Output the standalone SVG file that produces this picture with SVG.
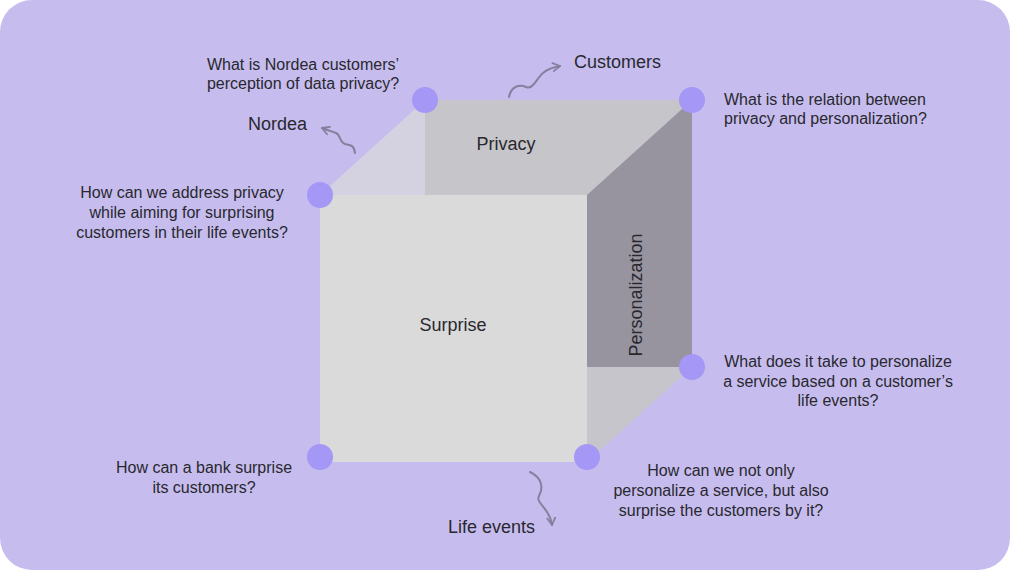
<svg xmlns="http://www.w3.org/2000/svg" width="1010" height="570" viewBox="0 0 1010 570">
<defs>
<style>
.t{font-family:"Liberation Sans",Arial,sans-serif;font-size:16px;fill:#29282e}
.c{text-anchor:middle}
.lbl{font-family:"Liberation Sans",Arial,sans-serif;font-size:18px;fill:#29282e}
.dot{fill:#A497F5}
.sq{fill:none;stroke:#877F9E;stroke-width:2;stroke-linecap:round;stroke-linejoin:round}
</style>
<marker id="ah" viewBox="0 0 10 10" refX="8" refY="5" markerWidth="10" markerHeight="10" markerUnits="userSpaceOnUse" orient="auto">
<path d="M1,1 L8,5 L1,9" fill="none" stroke="#877F9E" stroke-width="1.8" stroke-linecap="round" stroke-linejoin="round"/>
</marker>
</defs>
<rect x="0" y="0" width="1010" height="570" fill="#ffffff"/>
<rect x="0" y="0" width="1010" height="570" rx="32" fill="#C6BDEE"/>
<g id="cube">
<polygon points="320,195 425,100 425,195" fill="#D4D1E1"/>
<polygon points="425,100 692,100 587,195 425,195" fill="#C6C5CA"/>
<polygon points="587,195 692,100 692,367 587,367" fill="#98949F"/>
<polygon points="587,367 692,367 587,462" fill="#C6C5CB"/>
<rect x="320" y="195" width="267" height="267" fill="#DADADA"/>
<text class="lbl c" x="506" y="150">Privacy</text>
<text class="lbl c" x="453" y="331">Surprise</text>
<text class="lbl c" transform="translate(642,295) rotate(-90)">Personalization</text>
</g>
<g id="connectors">
<path class="sq" d="M355,153 C354,144 349,145 345,144 C339,142 341,135 336,133 C331,131 327,130 322,128" marker-end="url(#ah)"/>
<path class="sq" d="M509,97 C511,86 520,84 526,87 C533,90 536,79 543,73 C549,68 554,67 560,66" marker-end="url(#ah)"/>
<path class="sq" d="M530,472 C543,478 543,489 539,496 C535,503 550,508 552,525" marker-end="url(#ah)"/>
</g>
<g id="node-tl"><circle class="dot" cx="425" cy="100" r="13"/>
<text class="t c" x="303" y="70">What is Nordea customers’</text>
<text class="t c" x="303" y="89">perception of data privacy?</text></g>
<g id="node-tr"><circle class="dot" cx="692" cy="100" r="13"/>
<text class="t" x="724" y="105">What is the relation between</text>
<text class="t" x="724" y="124">privacy and personalization?</text></g>
<g id="node-ml"><circle class="dot" cx="320" cy="195" r="13"/>
<text class="t c" x="182" y="198">How can we address privacy</text>
<text class="t c" x="182" y="218">while aiming for surprising</text>
<text class="t c" x="182" y="238">customers in their life events?</text></g>
<g id="node-mr"><circle class="dot" cx="692" cy="367" r="13"/>
<text class="t c" x="838" y="367">What does it take to personalize</text>
<text class="t c" x="838" y="387">a service based on a customer’s</text>
<text class="t c" x="838" y="406">life events?</text></g>
<g id="node-bl"><circle class="dot" cx="320" cy="457" r="13"/>
<text class="t c" x="204" y="473">How can a bank surprise</text>
<text class="t c" x="204" y="493">its customers?</text></g>
<g id="node-br"><circle class="dot" cx="587" cy="457" r="13"/>
<text class="t c" x="721" y="476">How can we not only</text>
<text class="t c" x="721" y="496">personalize a service, but also</text>
<text class="t c" x="721" y="516">surprise the customers by it?</text></g>
<g id="label-nordea"><text class="lbl" x="248" y="130">Nordea</text></g>
<g id="label-customers"><text class="lbl" x="574" y="68">Customers</text></g>
<g id="label-life"><text class="lbl" x="448" y="533">Life events</text></g>
</svg>
